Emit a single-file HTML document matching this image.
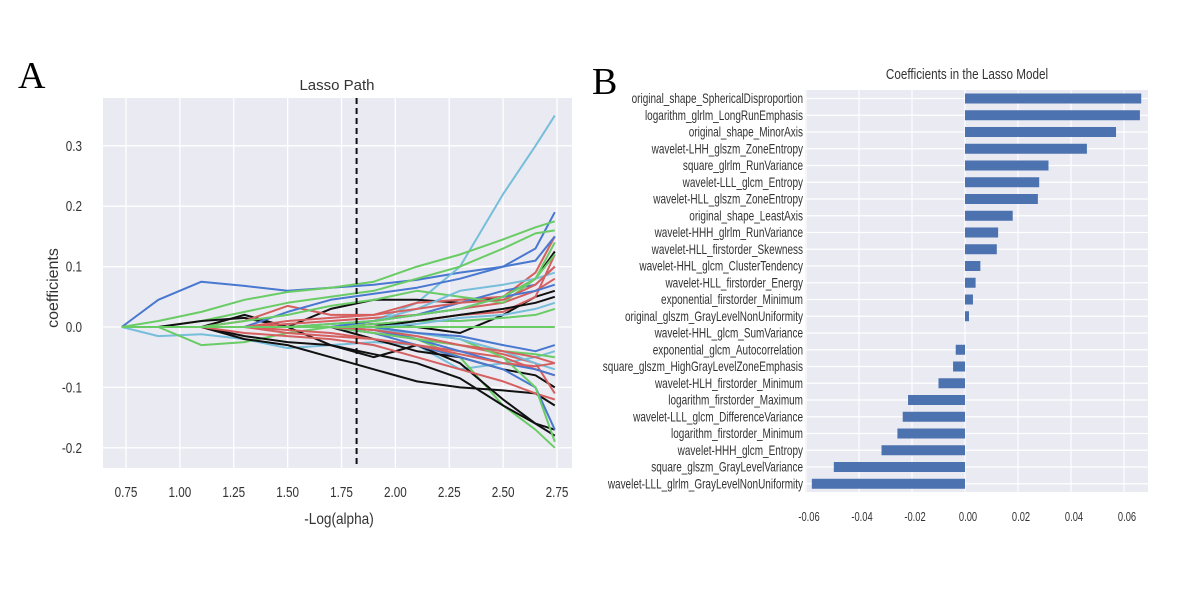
<!DOCTYPE html>
<html><head><meta charset="utf-8"><style>
html,body{margin:0;padding:0;background:#fff;}
svg{display:block;}
text{font-family:"Liberation Sans",sans-serif;}
</style></head><body>
<svg id="fig" width="1181" height="591" viewBox="0 0 1181 591" xmlns="http://www.w3.org/2000/svg">
<text x="18" y="88" font-size="38" style="font-family:'Liberation Serif',serif">A</text>
<text x="592" y="94" font-size="38" style="font-family:'Liberation Serif',serif">B</text>
<g id="pa"></g>
<g id="pb"></g>
</svg>
<script>
// ---------- Panel A data ----------
const pathX = [0.73,0.9,1.1,1.3,1.5,1.7,1.9,2.1,2.3,2.5,2.65,2.74];
const xTicksA = [0.75,1.00,1.25,1.50,1.75,2.00,2.25,2.50,2.75];
const yTicksA = [-0.2,-0.1,0.0,0.1,0.2,0.3];
const alphaCut = 1.82;
const seriesColors = ["blue","cyan","green","green","cyan","green","black","black","black","black","black","black","red","red","red","red","red","red","blue","blue","blue","blue","green","green","green","green","cyan","cyan","red","red","blue","green","black","red","blue","cyan","green"];
const seriesValues = [
 [0,0.045,0.075,0.068,0.06,0.065,0.07,0.078,0.09,0.1,0.13,0.19],
 [0,0,0,0,0,0,0.01,0.04,0.1,0.22,0.3,0.35],
 [0,0.01,0.025,0.045,0.058,0.065,0.075,0.1,0.12,0.145,0.165,0.175],
 [0,0,0.01,0.025,0.04,0.05,0.06,0.08,0.1,0.13,0.155,0.16],
 [0,-0.015,-0.012,-0.02,-0.035,-0.03,-0.025,-0.03,-0.07,-0.06,-0.05,-0.04],
 [0,0,-0.03,-0.025,-0.01,0,0,-0.02,-0.05,-0.13,-0.17,-0.2],
 [0,0,0,-0.02,-0.03,-0.05,-0.07,-0.09,-0.1,-0.105,-0.11,-0.13],
 [0,0,0,-0.015,-0.025,-0.03,-0.045,-0.06,-0.085,-0.13,-0.16,-0.18],
 [0,0,0.01,0.015,0,0.03,0.045,0.045,0.04,0.05,0.08,0.125],
 [0,0,0,0.02,0,-0.03,-0.05,-0.03,-0.06,-0.12,-0.16,-0.17],
 [0,0,0,0,0,0,0.005,0,-0.01,0.02,0.05,0.06],
 [0,0,0,0,0,0,-0.02,-0.04,-0.05,-0.07,-0.08,-0.1],
 [0,0,0,0.01,0.035,0.02,0.02,0.04,0.045,0.05,0.09,0.15],
 [0,0,0,-0.01,-0.015,-0.02,-0.03,-0.05,-0.07,-0.09,-0.11,-0.12],
 [0,0,0,0,0.005,0.01,0.015,0.02,0.03,0.04,0.06,0.08],
 [0,0,0,0,-0.005,-0.01,-0.02,-0.03,-0.04,-0.05,-0.07,-0.08],
 [0,0,0,0,0,0,0.005,0.01,0.02,0.025,0.05,0.12],
 [0,0,0,0,0,0,-0.01,-0.02,-0.03,-0.045,-0.06,-0.11],
 [0,0,0,0,0.025,0.045,0.055,0.065,0.08,0.1,0.11,0.15],
 [0,0,0,0,0,0,-0.01,-0.03,-0.05,-0.07,-0.1,-0.17],
 [0,0,0,0,0,0.005,0.01,0.02,0.04,0.06,0.07,0.1],
 [0,0,0,0,0,0,-0.005,-0.02,-0.04,-0.06,-0.07,-0.08],
 [0,0,0,0.01,0.02,0.035,0.045,0.06,0.05,0.04,0.08,0.14],
 [0,0,0,0,0,0,-0.01,-0.02,-0.03,-0.04,-0.045,-0.05],
 [0,0,0,0,0,0,0.005,0.01,0.01,0.015,0.02,0.03],
 [0,0,0,0,0,0,0,-0.01,-0.02,-0.05,-0.1,-0.19],
 [0,0,0,0,0,0,0.01,0.03,0.06,0.07,0.08,0.09],
 [0,0,0,0,0,0,-0.005,-0.01,-0.02,-0.04,-0.06,-0.07],
 [0,0,0,0,0.01,0.015,0.02,0.03,0.04,0.045,0.07,0.1],
 [0,0,0,0,-0.01,-0.015,-0.02,-0.03,-0.045,-0.06,-0.065,-0.06],
 [0,0,0,0,0,0,0.01,0.02,0.03,0.05,0.06,0.07],
 [0,0,0,0,0,0.005,0.01,0.02,0.03,0.05,0.08,0.12],
 [0,0,0,0,0,0,0,0.01,0.02,0.03,0.04,0.05],
 [0,0,0,0,0,0,-0.005,-0.015,-0.03,-0.04,-0.05,-0.06],
 [0,0,0,0,0,0,0,-0.01,-0.015,-0.03,-0.04,-0.03],
 [0,0,0,0,0,0,0,0.005,0.015,0.02,0.03,0.04],
 [0,0,0,0,0,0,0,0,0,0,0,0]
];
// ---------- Panel B data ----------
const features = ["original_shape_SphericalDisproportion","logarithm_glrlm_LongRunEmphasis","original_shape_MinorAxis","wavelet-LHH_glszm_ZoneEntropy","square_glrlm_RunVariance","wavelet-LLL_glcm_Entropy","wavelet-HLL_glszm_ZoneEntropy","original_shape_LeastAxis","wavelet-HHH_glrlm_RunVariance","wavelet-HLL_firstorder_Skewness","wavelet-HHL_glcm_ClusterTendency","wavelet-HLL_firstorder_Energy","exponential_firstorder_Minimum","original_glszm_GrayLevelNonUniformity","wavelet-HHL_glcm_SumVariance","exponential_glcm_Autocorrelation","square_glszm_HighGrayLevelZoneEmphasis","wavelet-HLH_firstorder_Minimum","logarithm_firstorder_Maximum","wavelet-LLL_glcm_DifferenceVariance","logarithm_firstorder_Minimum","wavelet-HHH_glcm_Entropy","square_glszm_GrayLevelVariance","wavelet-LLL_glrlm_GrayLevelNonUniformity"];
const coefs = [0.0665,0.066,0.057,0.046,0.0315,0.028,0.0275,0.018,0.0125,0.012,0.0058,0.004,0.003,0.0015,0,-0.0035,-0.0045,-0.01,-0.0215,-0.0235,-0.0255,-0.0315,-0.0495,-0.0578];
const xTicksB = [-0.06,-0.04,-0.02,0.00,0.02,0.04,0.06];

const NS="http://www.w3.org/2000/svg";
function mk(parent,tag,attrs,txt){const e=document.createElementNS(NS,tag);for(const k in attrs)e.setAttribute(k,attrs[k]);if(txt!==undefined)e.textContent=txt;parent.appendChild(e);return e;}
const palette={blue:"#4878CF",green:"#6ACC65",red:"#D65F5F",black:"#111111",cyan:"#77BEDB"};

// Panel A
const pa=document.getElementById('pa');
const AL=103,AR=572,AT=98,AB=468;
const ax=v=>126+(v-0.75)*215.5;
const ay=v=>327-v*604;
let bg=mk(pa,'rect',{x:AL,y:AT,width:AR-AL,height:AB-AT,fill:'#EAEAF2'});


xTicksA.forEach(t=>{
  let g=mk(pa,'line',{x1:ax(t),x2:ax(t),y1:AT,y2:AB,stroke:'#fff','stroke-width':1.3});
  
  
  let l=mk(pa,'text',{x:0,y:0,'font-size':15,fill:'#333','text-anchor':'middle',transform:`translate(${ax(t)} 497) scale(0.78 1)`},t.toFixed(2));
  
  
});
yTicksA.forEach(t=>{
  let g=mk(pa,'line',{x1:AL,x2:AR,y1:ay(t),y2:ay(t),stroke:'#fff','stroke-width':1.3});
  
  
  let l=mk(pa,'text',{x:0,y:0,'font-size':15,fill:'#333','text-anchor':'end',transform:`translate(${AL-21} ${ay(t)+5}) scale(0.78 1)`},t.toFixed(1));
  
  
});
seriesValues.forEach((vals,i)=>{
  const pts=vals.map((v,j)=>ax(pathX[j]).toFixed(1)+','+ay(v).toFixed(1)).join(' ');
  let p=mk(pa,'polyline',{points:pts,fill:'none',stroke:palette[seriesColors[i]],'stroke-width':2,'stroke-linejoin':'round'});
  
  
});
let dl=mk(pa,'line',{x1:ax(alphaCut),x2:ax(alphaCut),y1:AT,y2:AB,stroke:'#111','stroke-width':2,'stroke-dasharray':'6,4'});


let ta=mk(pa,'text',{x:337,y:90,'font-size':15,fill:'#333','text-anchor':'middle'},'Lasso Path');


let xa=mk(pa,'text',{x:0,y:0,'font-size':16,fill:'#333','text-anchor':'middle',transform:'translate(339 524) scale(0.85 1)'},'-Log(alpha)');


let ya=mk(pa,'text',{x:0,y:0,'font-size':16,fill:'#333','text-anchor':'middle',transform:'translate(58 288) rotate(-90)'},'coefficients');



// Panel B
const pb=document.getElementById('pb');
const BL=805,BR=1148,BT=90,BB=492;
const bx=v=>965+v*2650;
const rowH=16.75, row0=98.5;
let bgb=mk(pb,'rect',{x:BL,y:BT,width:BR-BL,height:BB-BT,fill:'#EAEAF2'});


features.forEach((f,i)=>{
  let g=mk(pb,'line',{x1:BL,x2:BR,y1:row0+i*rowH,y2:row0+i*rowH,stroke:'#fff','stroke-width':1.2});
  
  
});
xTicksB.forEach(t=>{
  let g=mk(pb,'line',{x1:bx(t),x2:bx(t),y1:BT,y2:BB,stroke:'#fff','stroke-width':1.2});
  
  
  let l=mk(pb,'text',{x:0,y:0,'font-size':13,fill:'#333','text-anchor':'middle',transform:`translate(${bx(t)+3} 521) scale(0.72 1)`},t.toFixed(2));
  
  
});
features.forEach((f,i)=>{
  const v=coefs[i], y=row0+i*rowH;
  let r=mk(pb,'rect',{x:Math.min(bx(0),bx(v)),y:y-5,width:Math.abs(bx(v)-bx(0)),height:10,fill:'#4C72B0'});
  
  
  let l=mk(pb,'text',{x:0,y:0,'font-size':13.5,fill:'#333','text-anchor':'end',transform:`translate(803 ${y+4.5}) scale(0.74 1)`},f);
  
  
});
let tb=mk(pb,'text',{x:0,y:0,'font-size':15,fill:'#333','text-anchor':'middle',transform:'translate(967 79) scale(0.78 1)'},'Coefficients in the Lasso Model');


</script>
</body></html>
